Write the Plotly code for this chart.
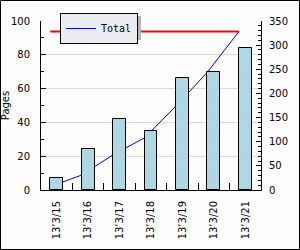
import plotly.graph_objects as go

# ---- data ----
dates = ["13’3/15", "13’3/16", "13’3/17", "13’3/18", "13’3/19", "13’3/20", "13’3/21"]
pages = [7, 24, 42, 35, 66, 70, 84]          # bars, left axis
total = [7, 31, 73, 108, 174, 244, 328]      # line, right axis

# ---- style ----
BAR_W = 0.41
FONT = "DejaVu Sans"
W, H = 300, 250
ML, MR, MT, MB = 41, 39, 21, 60
PW, PH = W - ML - MR, H - MT - MB

idx = list(range(len(dates)))
x_line = [i - BAR_W / 2 for i in idx]
x_range = [-0.5, len(dates) - 0.5]
boundaries = [i + 0.5 for i in idx[:-1]]

fig = go.Figure()

# line traces on the primary (right-side) axis so the bars sit on top of them
fig.add_trace(go.Scatter(
    x=x_line, y=total, mode="lines", name="Total",
    line=dict(color="#0000ff", width=1), xaxis="x", yaxis="y", showlegend=True,
))
fig.add_trace(go.Bar(
    x=idx, y=pages, width=BAR_W, xaxis="x", yaxis="y2", showlegend=False, name="Pages",
    marker=dict(color="#add8e6", line=dict(color="#000000", width=1),
                pattern=dict(shape=".", fgcolor="#e3b9c2", bgcolor="#add8e6",
                             size=5, solidity=0.12)),
))
fig.add_trace(go.Scatter(
    x=[x_line[0], x_line[-1]], y=[max(total), max(total)], mode="lines",
    line=dict(color="#ff0000", width=2), xaxis="x2", yaxis="y",
    showlegend=False, hoverinfo="skip",
))

def px_x(p):
    return (p - ML) / PW

def px_y(p):
    return (H - MB - p) / PH

shapes = [
    # outer border of the image
    dict(type="rect", xref="paper", yref="paper",
         x0=px_x(0.5), x1=px_x(W - 0.5), y0=px_y(H - 0.5), y1=px_y(0.5),
         line=dict(color="#000000", width=1), fillcolor="rgba(0,0,0,0)", layer="above"),
    # legend drop shadow
    dict(type="rect", xref="paper", yref="paper",
         x0=px_x(63), x1=px_x(141), y0=px_y(40), y1=px_y(16),
         line=dict(width=0), fillcolor="#b4b4b4", layer="above"),
]

fig.update_layout(
    width=W, height=H,
    margin=dict(l=ML, r=MR, t=MT, b=MB, pad=0, autoexpand=False),
    paper_bgcolor="#fdfdfd", plot_bgcolor="#fdfdfd",
    font=dict(family=FONT, size=10, color="#000000"),
    bargap=0,
    xaxis=dict(
        range=x_range,
        tickmode="array", tickvals=idx, ticktext=dates, tickangle=-90,
        ticks="", showgrid=False, zeroline=False,
        showline=True, linecolor="#000000", linewidth=1,
        ticklabelstandoff=6, automargin=False,
        tickfont=dict(family=FONT, size=10),
    ),
    xaxis2=dict(
        overlaying="x", anchor="y", side="bottom", range=x_range,
        tickmode="array", tickvals=boundaries, showticklabels=False,
        ticks="inside", ticklen=7, tickwidth=1, tickcolor="#000000",
        showgrid=False, zeroline=False, showline=False, automargin=False,
    ),
    yaxis=dict(
        side="right", range=[0, 350], dtick=50, tick0=0,
        ticks="inside", ticklen=5, tickcolor="#000000",
        minor=dict(dtick=10, ticks="inside", ticklen=3, tickcolor="#000000", showgrid=False),
        showgrid=False, zeroline=False,
        showline=True, linecolor="#000000", linewidth=1,
        ticklabelstandoff=5, automargin=False,
    ),
    yaxis2=dict(
        overlaying="y", side="left", range=[0, 100], dtick=20, tick0=0,
        ticks="inside", ticklen=5, tickcolor="#000000",
        minor=dict(dtick=10, ticks="inside", ticklen=3, tickcolor="#000000", showgrid=False),
        showgrid=True, gridcolor="#d9d9d9", gridwidth=1, zeroline=False,
        showline=True, linecolor="#000000", linewidth=1,
        ticklabelstandoff=8, automargin=False,
        title=dict(text="Pages", standoff=0, font=dict(family=FONT, size=10, color="#000000")),
    ),
    legend=dict(
        x=px_x(60), y=px_y(13), xanchor="left", yanchor="top",
        bgcolor="#ecebf1", bordercolor="#000000", borderwidth=1,
        font=dict(family="DejaVu Sans Mono", size=10),
        itemwidth=30, tracegroupgap=0,
    ),
    shapes=shapes,
)

fig.write_html("out.html")
